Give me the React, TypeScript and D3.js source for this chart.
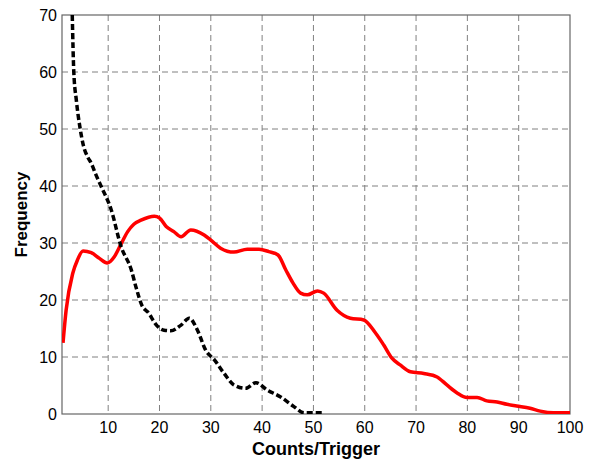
import React from 'react';
import * as d3 from 'd3';

// red curve (solid)
const redX = [1.2, 1.8, 3.1, 4.0, 5.1, 6.7, 8.3, 9.8, 11.2, 12.5, 13.8, 15.0, 16.4, 19.0, 20.0, 21.3, 22.8, 24.2, 26.1, 28.7, 30.0, 31.9, 34.5, 37.1, 39.4, 41.3, 43.1, 44.6, 46.0, 47.5, 48.8, 50.8, 52.0, 54.6, 57.2, 59.8, 62.1, 63.7, 65.3, 66.9, 68.9, 71.5, 74.1, 76.0, 78.0, 79.9, 81.9, 83.8, 85.8, 87.7, 89.6, 92.2, 94.2, 96.8, 100];
const redY = [12.5, 18.2, 24.7, 27.0, 28.6, 28.3, 27.3, 26.5, 27.6, 29.8, 32.0, 33.3, 34.0, 34.7, 34.4, 32.9, 32.0, 31.1, 32.3, 31.4, 30.5, 29.1, 28.4, 28.9, 28.9, 28.5, 27.9, 25.3, 23.0, 21.2, 20.9, 21.6, 21.2, 18.2, 16.8, 16.5, 14.2, 12.1, 9.8, 8.6, 7.4, 7.1, 6.5, 5.1, 3.7, 2.9, 2.9, 2.3, 2.1, 1.7, 1.4, 1.0, 0.5, 0.2, 0.2];

// black curve (dashed)
const blackX = [3.0, 3.3, 3.8, 4.55, 5.2, 6.0, 6.7, 7.6, 8.6, 10.6, 12.5, 14.5, 15.5, 16.6, 17.7, 19.7, 20.9, 22.2, 24.2, 25.8, 27.4, 29.0, 30.7, 32.6, 34.5, 36.8, 38.8, 41.0, 43.6, 46.2, 48.2, 50.1, 51.7];
const blackY = [70, 60, 55, 50, 47, 45.1, 44.0, 42, 40, 35.8, 29.4, 25.3, 22, 19, 17.9, 15.3, 14.7, 14.6, 15.6, 16.8, 14.7, 11.2, 9.5, 7.1, 5.1, 4.5, 5.5, 4.2, 3.0, 1.3, 0.2, 0.2, 0.2];

const xTicks = [10, 20, 30, 40, 50, 60, 70, 80, 90, 100];
const yTicks = [0, 10, 20, 30, 40, 50, 60, 70];

const W = 595;
const H = 459;
const margin = { top: 15, right: 25, bottom: 45, left: 62 };
const font = 'Liberation Sans, Arial, Helvetica, sans-serif';

export default function App() {
  const x = d3.scaleLinear().domain([1, 100]).range([margin.left, W - margin.right]);
  const y = d3.scaleLinear().domain([0, 70]).range([H - margin.bottom, margin.top]);

  const line = d3.line<[number, number]>()
    .x(d => x(d[0]))
    .y(d => y(d[1]))
    .curve(d3.curveMonotoneX);

  const redPts = redX.map((v, i) => [v, redY[i]] as [number, number]);
  const blackPts = blackX.map((v, i) => [v, blackY[i]] as [number, number]);

  const x0 = margin.left, x1 = W - margin.right;
  const y0 = margin.top, y1 = H - margin.bottom;

  return (
    <svg width={W} height={H} style={{ position: 'absolute', left: 0, top: 0, background: '#fff' }}>
      <defs>
        <clipPath id="plot">
          <rect x={x0} y={y0} width={x1 - x0} height={y1 - y0} />
        </clipPath>
      </defs>

      {/* grid */}
      <g stroke="#808080" strokeWidth={1} strokeDasharray="6,4">
        {xTicks.filter(t => t < 100).map(t => (
          <line key={'gx' + t} x1={x(t)} x2={x(t)} y1={y0} y2={y1} />
        ))}
        {yTicks.filter(t => t > 0 && t < 70).map(t => (
          <line key={'gy' + t} x1={x0} x2={x1} y1={y(t)} y2={y(t)} />
        ))}
      </g>

      {/* box */}
      <rect x={x0} y={y0} width={x1 - x0} height={y1 - y0} fill="none" stroke="#666" strokeWidth={1.2} />

      {/* curves */}
      <g clipPath="url(#plot)">
        <path d={line(redPts) || ''} fill="none" stroke="#f00" strokeWidth={3.5} strokeLinejoin="round" />
        <path d={line(blackPts) || ''} fill="none" stroke="#000" strokeWidth={3.5} strokeDasharray="6,3" />
      </g>

      {/* tick labels */}
      <g fontFamily={font} fontSize={16} fill="#000">
        {xTicks.map(t => (
          <text key={'xt' + t} x={x(t)} y={y1 + 19} textAnchor="middle">{t}</text>
        ))}
        {yTicks.map(t => (
          <text key={'yt' + t} x={x0 - 5} y={y(t)} dy="0.35em" textAnchor="end">{t}</text>
        ))}
      </g>

      {/* axis labels */}
      <text x={(x0 + x1) / 2} y={H - 4} textAnchor="middle" fontFamily={font} fontSize={18} fontWeight="bold">Counts/Trigger</text>
      <text transform={`translate(27,${(y0 + y1) / 2}) rotate(-90)`} textAnchor="middle" fontFamily={font} fontSize={17} fontWeight="bold">Frequency</text>
    </svg>
  );
}
